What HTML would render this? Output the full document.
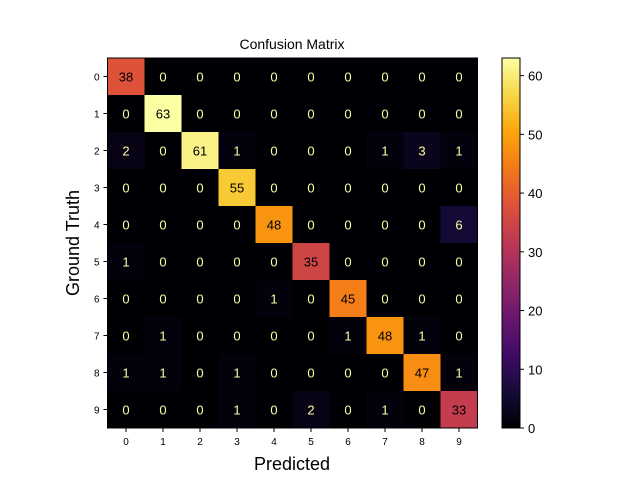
<!DOCTYPE html>
<html><head><meta charset="utf-8"><style>
body{margin:0;background:#fff;font-family:"Liberation Sans","DejaVu Sans",sans-serif}
</style></head><body>
<svg id="chart" width="640" height="480" xmlns="http://www.w3.org/2000/svg">
<defs><linearGradient id="cbg" x1="0" y1="1" x2="0" y2="0"></linearGradient></defs>
<text x="292" y="49" font-size="14" text-anchor="middle">Confusion Matrix</text>
<text x="79" y="243" font-size="18" text-anchor="middle" transform="rotate(-90 79 243)">Ground Truth</text>
<text x="292" y="470" font-size="18" text-anchor="middle">Predicted</text>
<g id="cells"></g><g id="ticks"></g><g id="cbar"></g>
</svg>
<script>
const labels = ["0","1","2","3","4","5","6","7","8","9"];
const matrix = [
[38,0,0,0,0,0,0,0,0,0],
[0,63,0,0,0,0,0,0,0,0],
[2,0,61,1,0,0,0,1,3,1],
[0,0,0,55,0,0,0,0,0,0],
[0,0,0,0,48,0,0,0,0,6],
[1,0,0,0,0,35,0,0,0,0],
[0,0,0,0,1,0,45,0,0,0],
[0,1,0,0,0,0,1,48,1,0],
[1,1,0,1,0,0,0,0,47,1],
[0,0,0,1,0,2,0,1,0,33]
];
const cbTicks = [0,10,20,30,40,50,60];
const NS="http://www.w3.org/2000/svg";
const stops=["#000004","#160b39","#420a68","#6a176e","#932667","#bc3754","#dd513a","#f37819","#fca50a","#f6d746","#fcffa4"];
function hex(h){return [1,3,5].map(i=>parseInt(h.substr(i,2),16));}
function inferno(t){t=Math.max(0,Math.min(1,t));const p=t*10,i=Math.min(9,Math.floor(p)),f=p-i;const a=hex(stops[i]),b=hex(stops[i+1]);return "rgb("+a.map((v,k)=>Math.round(v+(b[k]-v)*f)).join(",")+")";}
let vmax=0,vmin=Infinity;matrix.forEach(r=>r.forEach(v=>{vmax=Math.max(vmax,v);vmin=Math.min(vmin,v);}));
const X0=107.5,Y0=58,W=370,H=370,n=labels.length,cw=W/n,ch=H/n;
function xs(j){return X0+j*cw;} function ys(i){return Y0+i*ch;}
function mk(tag,at,parent){const e=document.createElementNS(NS,tag);for(const k in at)e.setAttribute(k,at[k]);parent.appendChild(e);return e;}
const cells=document.getElementById("cells"),ticks=document.getElementById("ticks"),cbar=document.getElementById("cbar");
const thr=(vmax+vmin)/2;
matrix.forEach((row,i)=>row.forEach((v,j)=>{
 const r=mk("rect",{x:xs(j),y:ys(i),width:cw+0.5,height:ch+0.5,fill:inferno(v/vmax)},cells);
 
 
 const t=mk("text",{x:xs(j)+cw/2,y:ys(i)+ch/2+5,"font-size":13,"text-anchor":"middle",fill:v>thr?"#000":inferno(1)},cells);
 t.textContent=v;
 
 
}));
mk("rect",{x:X0,y:Y0,width:W,height:H,fill:"none",stroke:"#000","stroke-width":1},cells);
labels.forEach((l,k)=>{
 mk("line",{x1:xs(k)+cw/2,x2:xs(k)+cw/2,y1:Y0+H,y2:Y0+H+4,stroke:"#000"},ticks);
 const tx=mk("text",{x:xs(k)+cw/2,y:Y0+H+17,"font-size":10,"text-anchor":"middle"},ticks);tx.textContent=l;
 
 
 mk("line",{x1:X0-4,x2:X0,y1:ys(k)+ch/2,y2:ys(k)+ch/2,stroke:"#000"},ticks);
 const ty=mk("text",{x:X0-8,y:ys(k)+ch/2+4,"font-size":10,"text-anchor":"end"},ticks);ty.textContent=l;
 
 
});
const CX=502,CW=18;
const g=document.getElementById("cbg");
for(let k=0;k<=20;k++){mk("stop",{offset:k/20,"stop-color":inferno(k/20)},g);}
const cb=mk("rect",{x:CX,y:Y0,width:CW,height:H,fill:"url(#cbg)",stroke:"#000","stroke-width":1},cbar);


cbTicks.forEach(v=>{
 const y=Y0+H-(v-vmin)/(vmax-vmin)*H;
 mk("line",{x1:CX+CW,x2:CX+CW+4,y1:y,y2:y,stroke:"#000"},cbar);
 const t=mk("text",{x:CX+CW+8,y:y+5,"font-size":13},cbar);t.textContent=v;
 
 
});
</script>
</body></html>
